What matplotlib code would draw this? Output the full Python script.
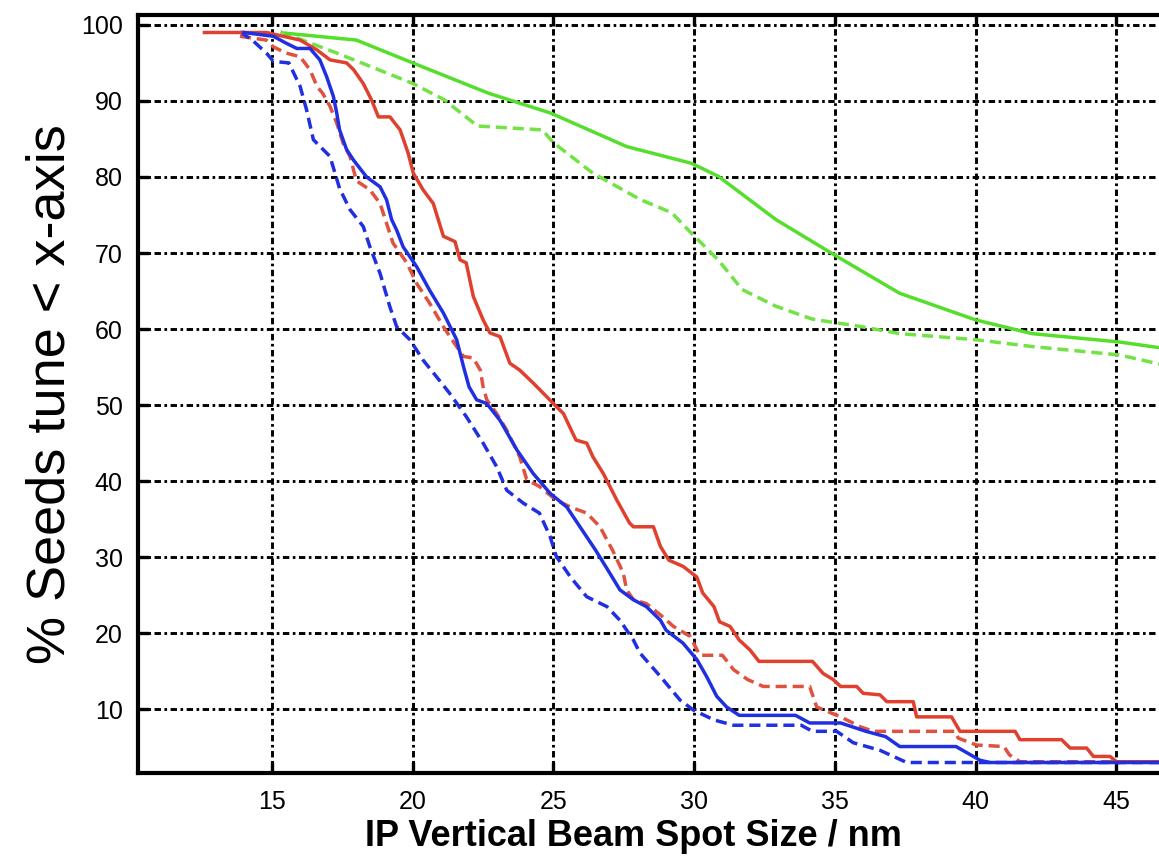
import matplotlib
matplotlib.use("Agg")
import matplotlib.pyplot as plt

# ---- data ----
red_solid_x = [12.6, 14.8, 16.0, 16.6, 17.06, 17.65, 17.9, 18.24, 18.54, 18.78, 19.19, 19.55, 19.84, 20.02,
               20.37, 20.73, 21.09, 21.5, 21.68, 21.9, 22.15, 22.5, 22.74, 23.1, 23.45, 23.8, 24.28, 24.76,
               25.1, 25.35, 25.8, 26.18, 26.4, 26.77, 27.25, 27.7, 27.84, 28.55, 28.8, 29.1, 29.6, 30.09,
               30.3, 30.7, 30.9, 31.27, 31.6, 31.98, 32.3, 34.2, 34.58, 34.94, 35.2, 35.77, 36.0, 36.6,
               36.84, 37.78, 37.9, 39.14, 39.44, 41.4, 41.57, 43.05, 43.35, 43.94, 44.18, 44.77, 45.0, 47.0]
red_solid_y = [99.0, 99.0, 98.0, 96.7, 95.4, 95.0, 94.1, 92.3, 90.1, 87.9, 87.9, 86.2, 83.1, 80.5,
               78.3, 76.5, 72.2, 71.5, 69.1, 68.7, 64.3, 61.2, 59.5, 59.0, 55.5, 54.6, 52.9, 51.1,
               49.8, 48.9, 45.4, 45.0, 43.2, 41.0, 37.5, 34.5, 34.0, 34.0, 31.4, 29.6, 28.8, 27.4,
               25.3, 23.5, 21.5, 20.9, 19.1, 17.8, 16.3, 16.3, 14.7, 13.9, 13.0, 13.0, 12.1, 11.9,
               11.0, 11.0, 9.0, 9.0, 7.1, 7.1, 6.0, 6.0, 4.9, 4.9, 3.8, 3.8, 3.1, 3.1]

red_dash_x = [13.86, 14.8, 15.05, 15.5, 16.0, 16.35, 16.6, 16.8, 17.06, 17.3, 17.53, 17.77, 18.0, 18.48,
              18.84, 19.07, 19.3, 19.79, 20.14, 20.6, 21.09, 21.56, 21.8, 22.15, 22.4, 22.5, 22.63, 22.98,
              23.34, 23.8, 24.05, 24.5, 25.1, 25.6, 26.18, 26.65, 27.1, 27.48, 27.6, 27.84, 28.3, 28.8,
              29.26, 29.85, 30.2, 31.0, 31.4, 31.9, 32.45, 34.1, 34.35, 35.2, 35.9, 36.36, 39.26, 39.38,
              40.03, 41.0, 41.2, 41.57, 47.0]
red_dash_y = [98.5, 98.0, 97.1, 96.3, 95.8, 94.1, 91.9, 91.0, 89.3, 87.1, 84.4, 82.7, 79.5, 78.3,
              76.5, 73.9, 71.3, 68.7, 66.0, 63.4, 60.3, 57.7, 56.4, 56.2, 54.6, 52.4, 50.7, 48.9,
              46.7, 43.2, 40.2, 39.3, 37.5, 36.6, 35.8, 34.0, 30.9, 27.9, 25.7, 24.4, 23.9, 22.4,
              20.9, 19.6, 17.1, 17.1, 15.2, 13.9, 13.0, 13.0, 10.3, 9.0, 7.7, 7.1, 7.1, 6.2,
              5.3, 5.1, 4.0, 3.1, 3.1]

blue_solid_x = [14.0, 15.05, 15.5, 15.88, 16.35, 16.7, 16.94, 17.18, 17.3, 17.4, 17.65, 17.9, 18.36, 18.84,
                19.07, 19.25, 19.43, 19.66, 20.14, 20.6, 21.09, 21.56, 21.8, 22.0, 22.27, 22.63, 23.1, 23.7,
                24.28, 24.88, 25.47, 25.94, 26.5, 27.0, 27.36, 27.84, 28.3, 28.8, 29.0, 29.6, 30.1, 30.44,
                30.8, 31.15, 31.6, 33.6, 34.1, 35.2, 36.1, 36.8, 37.3, 39.3, 40.15, 40.5, 47.0]
blue_solid_y = [99.0, 98.5, 97.6, 96.9, 96.9, 95.4, 93.2, 90.6, 88.4, 86.2, 83.6, 82.2, 80.0, 78.7,
                77.0, 74.4, 73.0, 70.8, 68.2, 65.1, 62.1, 58.6, 55.1, 52.4, 50.7, 50.2, 48.0, 44.1,
                41.0, 38.4, 36.6, 34.0, 30.9, 27.9, 25.7, 24.4, 23.5, 21.7, 20.4, 18.7, 16.5, 14.3,
                11.7, 10.3, 9.2, 9.2, 8.2, 8.2, 7.1, 6.4, 5.1, 5.1, 3.3, 3.0, 3.0]

blue_dash_x = [13.86, 14.3, 14.8, 15.05, 15.6, 16.0, 16.23, 16.47, 17.06, 17.4, 17.77, 18.24, 18.48, 18.84,
               19.19, 19.43, 19.9, 20.37, 20.85, 21.3, 21.9, 22.5, 22.98, 23.34, 23.93, 24.5, 24.88, 25.1,
               25.6, 26.18, 26.9, 27.36, 27.84, 28.07, 28.8, 29.5, 29.97, 30.7, 31.4, 33.8, 34.2, 35.06,
               35.65, 36.6, 37.55, 47.0]
blue_dash_y = [99.1, 98.0, 96.3, 95.2, 95.0, 91.9, 88.8, 84.9, 82.7, 78.5, 75.7, 73.5, 70.8, 67.3,
               62.9, 60.3, 58.6, 55.9, 53.7, 51.6, 48.5, 45.0, 41.9, 38.8, 37.1, 35.8, 32.7, 30.1,
               27.4, 24.8, 23.5, 21.7, 19.1, 17.4, 14.3, 11.2, 9.9, 8.6, 7.9, 7.9, 7.1, 7.1,
               5.6, 4.6, 3.0, 3.0]

green_solid_x = [15.5, 18.0, 20.0, 22.7, 24.9, 27.6, 29.9, 30.85, 32.9, 35.0, 37.3, 40.0, 42.0, 45.1, 47.0]
green_solid_y = [98.9, 98.0, 95.0, 91.0, 88.4, 84.0, 81.8, 80.1, 74.4, 69.7, 64.7, 61.2, 59.4, 58.3, 57.3]

green_dash_x = [15.3, 17.3, 20.0, 21.1, 22.3, 24.6, 25.0, 26.4, 28.1, 29.2, 29.9, 30.85, 31.7, 32.9, 34.2,
                35.8, 37.3, 40.0, 42.0, 45.1, 47.0]
green_dash_y = [99.1, 96.3, 92.3, 90.2, 86.7, 86.2, 84.5, 80.5, 77.0, 75.3, 72.6, 69.1, 65.2, 63.0, 61.3,
                60.4, 59.4, 58.6, 57.7, 56.6, 55.0]

x_ticks = [15, 20, 25, 30, 35, 40, 45]
y_ticks = [10, 20, 30, 40, 50, 60, 70, 80, 90, 100]
x_label = "IP Vertical Beam Spot Size / nm"
y_label = "% Seeds tune < x-axis"

# ---- figure ----
plt.rcParams['font.family'] = ['Liberation Sans', 'DejaVu Sans']
W, H = 1159, 863
fig = plt.figure(figsize=(W / 100, H / 100), dpi=100)

x0, x1 = 10.24, 47.0
px_per_unit = 28.15
ax_left = 138 / W
ax_w = (x1 - x0) * px_per_unit / W
ax_bottom = (H - 773) / H
ax_top = (H - 15) / H
ax = fig.add_axes([ax_left, ax_bottom, ax_w, ax_top - ax_bottom])

red = '#e0402e'
red_d = '#e0513f'
blue = '#2030e0'
green = '#55de2c'
green_d = '#72e244'

lw = 2.5
dash = (0, (3.2, 1.7))
ax.plot(green_dash_x, green_dash_y, color=green_d, lw=lw, linestyle=dash, zorder=3)
ax.plot(green_solid_x, green_solid_y, color=green, lw=lw, zorder=3)
ax.plot(red_dash_x, red_dash_y, color=red_d, lw=lw, linestyle=dash, zorder=3)
ax.plot(blue_dash_x, blue_dash_y, color=blue, lw=lw, linestyle=dash, zorder=3)
ax.plot(red_solid_x, red_solid_y, color=red, lw=lw, zorder=4)
ax.plot(blue_solid_x, blue_solid_y, color=blue, lw=lw, zorder=4)

ax.set_xlim(x0, x1)
ax.set_ylim(1.62, 101.3)
ax.set_xticks(x_ticks)
ax.set_yticks(y_ticks)
ax.grid(True, color='black', lw=2.1, linestyle=(0, (2.2, 1.2, 0.9, 1.2)), zorder=1)
ax.set_axisbelow(True)
ax.tick_params(direction='in', length=8, width=2.4, labelsize=18, pad=12,
               top=True, right=True, colors='black')
ax.tick_params(axis='y', pad=11)
for s in ax.spines.values():
    s.set_linewidth(3)

ax.set_xlabel(x_label, fontsize=26, fontweight='bold')
ax.xaxis.set_label_coords(0.479, -0.084, transform=ax.transAxes)
ax.xaxis.label.set_va('center')
ax.set_ylabel(y_label, fontsize=39, labelpad=4)

fig.savefig('out.png', dpi=100)
